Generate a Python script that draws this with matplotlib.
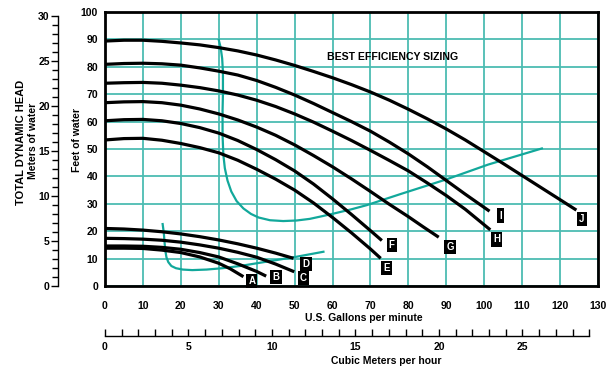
import matplotlib
matplotlib.use("Agg")
import matplotlib.pyplot as plt
import matplotlib.ticker as mticker

plt.rcParams["font.family"] = ["Liberation Sans", "DejaVu Sans"]
plt.rcParams["font.weight"] = "bold"

# ── Data (U.S. gpm vs feet of head) ─────────────────────────────────────────
PUMP_LABELS = ["A", "B", "C", "D", "E", "F", "G", "H", "I", "J"]

PUMP_GPM = {
    "A": [0, 5, 10, 15, 20, 25, 30, 33, 36.5],
    "B": [0, 5, 10, 15, 20, 25, 30, 35, 40, 42.5],
    "C": [0, 5, 10, 15, 20, 25, 30, 35, 40, 45, 49.9],
    "D": [0, 5, 10, 15, 20, 25, 30, 35, 40, 45, 49.7],
    "E": [0, 5, 10, 15, 20, 25, 30, 35, 40, 45, 50, 55, 60, 65, 70, 72.7],
    "F": [0, 5, 10, 15, 20, 25, 30, 35, 40, 45, 50, 55, 60, 65, 70, 73],
    "G": [0, 5, 10, 15, 20, 25, 30, 35, 40, 45, 50, 55, 60, 65, 70, 75, 80,
          84, 88],
    "H": [0, 5, 10, 15, 20, 25, 30, 35, 40, 45, 50, 55, 60, 65, 70, 75, 80,
          85, 90, 95, 101.6],
    "I": [0, 5, 10, 15, 20, 25, 30, 35, 40, 45, 50, 55, 60, 65, 70, 75, 80,
          85, 90, 95, 101.4],
    "J": [0, 5, 10, 15, 20, 25, 30, 35, 40, 45, 50, 55, 60, 65, 70, 75, 80,
          85, 90, 95, 100, 105, 110, 115, 120, 124.3],
}
PUMP_FT = {
    "A": [13.8, 13.8, 13.7, 13.1, 12.2, 10.6, 8.3, 6.3, 3.4],
    "B": [14.6, 14.6, 14.5, 14.1, 13.4, 12.2, 10.6, 8.1, 5.3, 3.6],
    "C": [17.4, 17.3, 17.1, 16.7, 16.0, 15.0, 13.8, 12.3, 10.5, 8.0, 5.2],
    "D": [21.0, 20.8, 20.4, 19.8, 19.0, 18.0, 16.8, 15.4, 13.8, 12.0, 10.1],
    "E": [53.3, 53.8, 53.9, 53.2, 52.0, 50.5, 48.6, 45.9, 42.6, 39.0, 35.0,
          30.3, 25.0, 19.4, 13.5, 10.1],
    "F": [60.3, 60.7, 60.8, 60.3, 59.3, 57.8, 55.8, 53.1, 49.8, 46.1, 42.0,
          37.2, 31.8, 26.1, 20.2, 16.6],
    "G": [66.9, 67.2, 67.3, 66.9, 66.0, 64.6, 62.8, 60.6, 58.0, 55.0, 51.5,
          47.6, 43.5, 39.1, 34.5, 29.8, 25.3, 21.5, 17.8],
    "H": [74.0, 74.2, 74.3, 74.0, 73.3, 72.4, 71.2, 69.7, 67.8, 65.5, 62.8,
          59.8, 56.5, 53.1, 49.5, 45.8, 42.0, 37.6, 33.0, 28.0, 20.5],
    "I": [80.9, 81.2, 81.3, 81.1, 80.6, 79.6, 78.4, 77.0, 75.0, 72.5, 69.7,
          66.6, 63.3, 60.0, 56.5, 52.5, 48.2, 43.5, 38.5, 33.5, 27.3],
    "J": [89.4, 89.7, 89.7, 89.3, 88.7, 88.0, 87.0, 85.8, 84.3, 82.5, 80.5,
          78.3, 76.0, 73.5, 70.8, 67.8, 64.5, 61.0, 57.3, 53.3, 49.0, 44.7,
          40.3, 35.9, 31.5, 27.7],
}

# best-efficiency boundary curves
SMALL_EFF_GPM = [15.2, 15.5, 15.7, 15.9, 16.2, 16.7, 17.5, 18.7, 20.5, 23,
                 26.8, 31, 35.6, 42.7, 50.6, 57.6]
SMALL_EFF_FT = [22.6, 19.5, 16.0, 13.0, 10.5, 8.7, 7.3, 6.5, 6.0, 5.8,
                6.0, 6.5, 7.3, 8.9, 10.7, 12.5]

BIG_EFF_GPM = [30, 30.5, 30.9, 31.1, 31.1, 31.0, 31.0, 31.2, 31.6, 32.3,
               33.3, 34.7, 36.5, 38.5, 40.5, 43.5, 47, 50.5, 54, 57, 60.2,
               65, 69, 77.8, 90, 101, 115.2]
BIG_EFF_FT = [89.8, 87, 83, 78, 70, 64, 55, 48, 43, 38.5,
              34.5, 31, 28.3, 26.3, 25, 24, 23.7, 23.9, 24.5, 25.4, 26.4,
              28, 29.5, 33.5, 38.9, 44.3, 50.2]

# where each letter tag sits (gpm, ft)
TAG_GPM = [38.7, 45.1, 52.3, 53.0, 74.2, 75.6, 91.0, 103.3, 104.4, 125.8]
TAG_FT = [1.7, 3.4, 3.0, 8.0, 6.7, 15.0, 14.3, 17.0, 25.7, 24.5]

FT_PER_M = 3.28084
GPM_PER_M3H = 4.402868

# ── Style ────────────────────────────────────────────────────────────────────
TEAL = "#12a89b"
GRID = "#4cbcb2"
W, H = 614, 366
FS = 7.5

fig = plt.figure(figsize=(W / 100, H / 100), dpi=100)
fig.patch.set_facecolor("white")

def fx(px):
    return px / W

def fy(py):
    return 1 - py / H

# main chart
ax = fig.add_axes([fx(105), fy(286), fx(598) - fx(105), fy(12) - fy(286)])
ax.set_xlim(0, 130)
ax.set_ylim(0, 100)
ax.set_xticks(range(0, 131, 10))
ax.set_yticks(range(0, 101, 10))
ax.grid(color=GRID, lw=1.3)
ax.set_axisbelow(True)
ax.tick_params(length=0, labelsize=FS, pad=5)
ax.tick_params(axis="x", pad=11)
for s in ax.spines.values():
    s.set_linewidth(2.0)
    s.set_zorder(5)

for lab in PUMP_LABELS:
    ax.plot(PUMP_GPM[lab], PUMP_FT[lab], color="black", lw=2.3,
            solid_capstyle="butt", solid_joinstyle="round", zorder=3)

ax.plot(SMALL_EFF_GPM, SMALL_EFF_FT, color=TEAL, lw=1.6, zorder=2)
ax.plot(BIG_EFF_GPM, BIG_EFF_FT, color=TEAL, lw=1.6, zorder=2)

for lab, gx, gy in zip(PUMP_LABELS, TAG_GPM, TAG_FT):
    ax.text(gx, gy, lab, color="white", fontsize=7, fontweight="bold",
            ha="center", va="center", zorder=6,
            bbox=dict(boxstyle="square,pad=0.22", fc="black", ec="none"))

ax.text(58.6, 83.6, "BEST EFFICIENCY SIZING", fontsize=7.6, fontweight="bold",
        ha="left", va="center", zorder=6)

# meters of water scale (left)
axm = fig.add_axes([fx(58), fy(286), 0.0005, fy(12) - fy(286)])
axm.set_ylim(0, 100 / FT_PER_M)
axm.patch.set_visible(False)
for k in ["top", "right", "bottom"]:
    axm.spines[k].set_visible(False)
axm.spines["left"].set_linewidth(1.0)
axm.spines["left"].set_bounds(0, 30)
axm.set_xticks([])
axm.yaxis.set_major_locator(mticker.MultipleLocator(5))
axm.yaxis.set_minor_locator(mticker.MultipleLocator(1))
axm.tick_params(axis="y", which="major", length=5, width=1, labelsize=FS, pad=1)
axm.tick_params(axis="y", which="minor", length=4, width=1)

# cubic meters per hour scale (bottom)
axq = fig.add_axes([fx(105), fy(336), fx(598) - fx(105), 0.0005])
axq.set_xlim(0, 130 / GPM_PER_M3H)
axq.patch.set_visible(False)
for k in ["top", "right", "left"]:
    axq.spines[k].set_visible(False)
axq.spines["bottom"].set_linewidth(1.0)
axq.spines["bottom"].set_bounds(0, 29)
axq.set_yticks([])
axq.xaxis.set_major_locator(mticker.FixedLocator(range(0, 26, 5)))
axq.xaxis.set_minor_locator(mticker.FixedLocator(range(0, 30)))
axq.tick_params(axis="x", which="both", direction="in", length=5, width=1,
                labelsize=FS, pad=4)

# axis titles
fig.text(fx(364), fy(318), "U.S. Gallons per minute", fontsize=FS,
         fontweight="bold", ha="center", va="center")
fig.text(fx(386), fy(361), "Cubic Meters per hour", fontsize=FS,
         fontweight="bold", ha="center", va="center")
fig.text(fx(21), fy(142), "TOTAL DYNAMIC HEAD", fontsize=8, fontweight="bold",
         rotation=90, ha="center", va="center")
fig.text(fx(33), fy(141), "Meters of water", fontsize=FS, fontweight="bold",
         rotation=90, ha="center", va="center")
fig.text(fx(77), fy(140), "Feet of water", fontsize=FS, fontweight="bold",
         rotation=90, ha="center", va="center")

fig.savefig("out.png", dpi=100, facecolor="white")
